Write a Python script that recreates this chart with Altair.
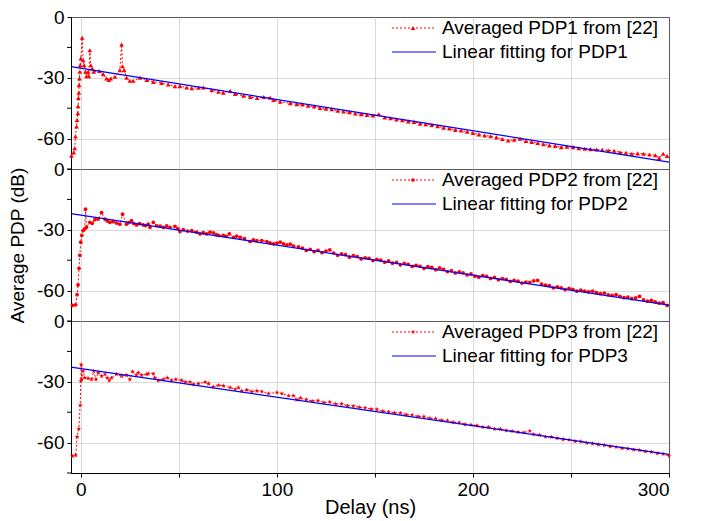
import altair as alt
import pandas as pd

# ---------------- data ----------------
pdp1 = [(-4.8,-68.5),(-3.6,-66.9),(-3.1,-64.8),(-2.7,-59.0),(-2.2,-54.0),(-1.9,-50.8),(-1.5,-47.5),
        (-1.4,-44.0),(-1.2,-40.0),(-1.0,-37.4),(-0.9,-33.6),(-0.7,-30.3),(-0.5,-27.0),(-0.3,-23.8),
        (0.0,-20.5),(0.7,-10.2),(1.2,-21.3),(1.7,-23.8),(2.4,-27.0),(2.9,-29.2),(3.7,-27.0),(4.1,-29.2),
        (4.6,-16.4),(5.1,-23.8),(5.8,-25.4),(6.6,-27.0),(9.4,-26.6),(11.4,-28.2),(13.1,-30.3),(14.3,-31.1),
        (15.3,-30.3),(17.4,-29.5),(19.9,-26.2),(20.8,-13.6),(21.3,-24.3),(22.1,-26.2),(23.3,-30.0),
        (25.0,-31.5),(26.7,-31.5),(30.2,-30.0),(33.6,-31.1),(37.0,-32.0),(41.2,-32.5),(44.6,-33.3),
        (48.0,-34.1),(50.6,-34.1),(54.0,-34.8),(56.6,-35.1),(60.0,-34.9),(62.5,-34.8),(66.8,-36.1),
        (70.2,-36.9),(72.7,-37.4),(76.2,-36.4),(78.7,-38.0),(83.0,-38.9),(86.5,-39.5),(89.9,-40.0),
        (93.3,-39.5),(96.6,-39.8),(98.3,-41.0),(101.7,-41.8),(106.8,-42.6),(110.2,-43.0),
        (113,-43.2),(116,-43.8),(119,-44.1),(122,-44.9),(125,-45.2),(128,-45.5),(131,-46.3),(134,-46.6),
        (137,-47.0),(140,-47.6),(143,-48.0),(146,-48.3),(149,-48.6),(152,-48.0),(155,-49.6),(158,-50.0),
        (161,-50.6),(164,-50.9),(167,-51.5),(170,-51.8),(173,-52.6),(176,-52.9),(179,-53.3),(182,-53.9),
        (185,-54.6),(188,-55.0),(191,-55.7),(194,-56.0),(197,-56.6),(200,-57.2),(203,-57.9),(206,-58.5),
        (209,-58.8),(212,-59.4),(215,-60.2),(218,-60.9),(221,-60.6),(224,-60.1),(227,-61.2),(230,-61.7),
        (233,-62.2),(236,-62.8),(239,-63.4),(242,-63.6),(245,-64.2),(248,-64.0),(251,-64.2),(254,-64.8),
        (257,-65.0),(260,-65.2),(263,-65.4),(266,-65.5),(269,-65.8),(272,-66.0),(275,-66.7),(278,-67.0),
        (281,-67.5),(284,-67.3),(287,-67.5),(290,-67.8),(293,-68.2),(295,-69.5),(297,-67.5),(299,-68.6)]

pdp2 = [(-4.3,-67.3),(-2.6,-67.0),(-1.9,-62.0),(-1.4,-57.2),(-0.9,-49.0),(-0.5,-42.6),(0.0,-36.1),
        (0.5,-32.8),(1.2,-30.4),(2.0,-29.6),(2.4,-19.8),(2.9,-28.8),(4.6,-26.3),(5.8,-26.8),(7.2,-25.0),
        (8.9,-24.7),(10.6,-21.5),(12.3,-24.7),(13.5,-25.6),(14.8,-26.3),(16.5,-26.0),(18.2,-26.7),
        (19.9,-27.2),(21.3,-22.3),(23.3,-27.2),(24.5,-26.4),(25.9,-25.5),(27.0,-26.9),(28.4,-27.6),
        (30.0,-27.0),(31.8,-27.6),(33.0,-27.9),(34.4,-27.2),(35.3,-28.8),(37.0,-26.3),(38.7,-28.0),
        (40.5,-28.2),(42.1,-28.8),(43.8,-28.1),(45.5,-28.8),(48.0,-28.3),(49.5,-29.4),(50.6,-30.9),
        (52.3,-29.9),(54.5,-30.6),(56.6,-30.4),(59.1,-31.2),(60.8,-32.0),(62.5,-31.4),(64.2,-32.0),
        (65.9,-31.2),(67.6,-31.5),(69.0,-32.4),(70.2,-32.8),(72.7,-32.8),(74.3,-33.3),(75.8,-32.0),
        (77.9,-33.7),(79.5,-33.1),(81.3,-33.7),(83.5,-34.4),(86.3,-35.8),(88.0,-35.0),(89.8,-35.3),
        (92.3,-35.3),(94.9,-35.8),(96.5,-36.4),(98.3,-36.9),(100.0,-36.6),(101.7,-36.1),(103.4,-37.0),
        (105.1,-37.4),(106.8,-37.1),(108.5,-38.0),(111.0,-38.4),
        (113,-39.0),(115,-40.2),(117,-39.6),(119,-40.8),(121,-40.1),(123,-41.3),(125,-40.5),(127,-39.9),
        (129,-41.5),(131,-42.6),(133,-41.9),(135,-42.3),(137,-43.5),(139,-42.8),(141,-43.2),(143,-44.4),
        (145,-43.8),(147,-44.1),(149,-45.2),(151,-44.6),(153,-45.0),(155,-46.0),(157,-45.3),(159,-46.5),
        (161,-46.1),(163,-47.3),(165,-46.6),(167,-47.0),(169,-48.1),(171,-47.5),(173,-48.0),(175,-49.0),
        (177,-48.2),(179,-48.5),(181,-49.7),(183,-48.8),(185,-49.5),(187,-50.6),(189,-50.2),(191,-51.3),
        (193,-50.8),(195,-51.2),(197,-52.3),(199,-51.8),(201,-52.9),(203,-53.4),(205,-52.6),(207,-53.0),
        (209,-54.0),(211,-53.5),(213,-54.6),(215,-54.1),(217,-54.5),(219,-55.5),(221,-54.9),(223,-55.3),
        (225,-56.3),(227,-55.8),(229,-56.0),(231,-55.2),(233,-54.9),(235,-56.8),(237,-57.3),(239,-57.6),
        (241,-58.6),(243,-58.1),(245,-58.6),(247,-59.5),(249,-58.9),(251,-59.4),(253,-60.3),(255,-59.8),
        (257,-60.2),(259,-60.6),(261,-60.2),(263,-61.0),(265,-61.5),(267,-61.2),(269,-62.1),(271,-62.4),
        (273,-62.0),(275,-62.8),(277,-63.5),(279,-63.2),(281,-64.0),(283,-63.6),(285,-62.9),(287,-64.6),
        (289,-65.2),(291,-64.8),(293,-65.6),(295,-66.2),(297,-65.9),(299,-67.3)]

pdp3 = [(-4.3,-66.7),(-2.6,-66.2),(-1.9,-57.2),(-1.0,-53.2),(-0.3,-41.6),(0.0,-29.6),(0.2,-21.5),
        (0.5,-28.8),(1.2,-24.7),(2.0,-28.0),(3.7,-28.3),(5.5,-28.8),(6.6,-24.7),(7.7,-28.8),(8.9,-25.5),
        (10.6,-27.2),(12.3,-26.3),(13.5,-28.0),(14.5,-29.3),(15.7,-28.0),(18.2,-26.3),(20.8,-27.2),
        (23.3,-26.7),(25.0,-28.8),(26.4,-25.0),(28.4,-26.8),(29.3,-25.5),(31.0,-26.7),(33.6,-26.3),
        (34.4,-26.0),(37.0,-26.0),(37.8,-28.0),(39.5,-29.3),(42.1,-28.8),(44.1,-28.0),(46.3,-29.3),
        (48.5,-28.8),(51.4,-29.3),(53.2,-30.1),(55.7,-30.1),(57.4,-31.2),(60.0,-30.9),(63.4,-30.1),
        (65.1,-30.9),(67.6,-32.5),(70.2,-31.7),(72.7,-32.0),(76.2,-32.8),(78.7,-33.7),(80.4,-32.8),
        (82.1,-34.5),(84.7,-34.0),(87.2,-34.8),(89.8,-34.5),(92.3,-34.8),(95.7,-35.8),(100.0,-35.3),
        (102.6,-35.8),(106.0,-36.9),(108.5,-36.9),(110.2,-38.9),(112.0,-38.0),
        (115,-38.8),(118,-39.5),(121,-39.3),(124,-40.2),(127,-40.0),(130,-41.0),(133,-40.9),(136,-41.8),
        (139,-42.0),(142,-42.6),(145,-42.8),(148,-43.5),(151,-43.6),(154,-44.5),(157,-44.8),(160,-45.3),
        (163,-45.5),(166,-46.2),(169,-46.4),(172,-47.1),(175,-47.2),(178,-48.0),(181,-48.1),(184,-49.0),
        (187,-49.1),(190,-50.0),(193,-50.1),(196,-51.0),(199,-51.2),(202,-51.6),(205,-52.3),(208,-52.4),
        (211,-53.2),(214,-53.3),(217,-54.0),(220,-54.3),(223,-54.8),(226,-55.0),(229,-54.3),(231,-55.9),
        (234,-56.3),(237,-57.1),(240,-57.2),(243,-57.9),(246,-58.4),(249,-58.6),(252,-59.3),(255,-59.5),
        (258,-60.2),(261,-60.5),(264,-61.0),(267,-61.3),(270,-61.9),(273,-62.2),(276,-62.8),(279,-63.0),
        (282,-63.5),(285,-63.8),(288,-64.4),(291,-64.6),(294,-65.3),(297,-65.6),(300,-66.5)]

fit1 = [(-5, -24.5), (300, -71.6)]
fit2 = [(-5, -22.0), (300, -67.2)]
fit3 = [(-5, -22.8), (300, -65.8)]

labels_avg = ["Averaged PDP1 from [22]", "Averaged PDP2 from [22]", "Averaged PDP3 from [22]"]
labels_fit = ["Linear fitting for PDP1", "Linear fitting for PDP2", "Linear fitting for PDP3"]
STAR = "M0,-1L0.24,-0.33L0.95,-0.31L0.38,0.12L0.59,0.81L0,0.4L-0.59,0.81L-0.38,0.12L-0.95,-0.31L-0.24,-0.33Z"
shapes = ["triangle-up", "circle", STAR]
marker_sizes = [22, 14, 26]

x_ticks = [0, 50, 100, 150, 200, 250, 300]
y_major = [0, -30, -60]
y_minor = [-15, -45, -75]

FONT = "Liberation Sans"
RED = "#ff0000"
BLUE = "#0000ff"
GRID = "#b4b4b4"
W, H = 598, 152


def panel(pts, fit, shape, msize, lab_avg, lab_fit, bottom, ytitle):
    df = pd.DataFrame(pts, columns=["x", "y"])
    dff = pd.DataFrame(fit, columns=["x", "y"])
    xscale = alt.Scale(domain=[-5, 300], nice=False, zero=False)
    yscale = alt.Scale(domain=[-75, 0], nice=False, zero=False)
    if bottom:
        xaxis = alt.Axis(values=x_ticks, title="Delay (ns)",
                         labelExpr="datum.value % 100 == 0 ? datum.label : ''",
                         tickSize=4, tickColor="black", domainColor="black",
                         labelFontSize=19, titleFontSize=20, titleFontWeight="normal",
                         labelPadding=3, titlePadding=-2,
                         grid=True, gridDash=[1, 1], gridColor=GRID)
    else:
        xaxis = alt.Axis(values=x_ticks, title=None, labels=False, ticks=False, domain=False,
                         grid=True, gridDash=[1, 1], gridColor=GRID)
    yaxis = alt.Axis(values=y_major, title=ytitle if ytitle else None,
                     labelExpr="'' + datum.value",
                     tickSize=4, tickColor="black", domainColor="black",
                     labelFontSize=19, titleFontSize=19, titleFontWeight="normal",
                     labelPadding=3, titlePadding=9,
                     grid=True, gridDash=[1, 1], gridColor=GRID)
    base = alt.Chart(df).encode(
        x=alt.X("x:Q", scale=xscale, axis=xaxis),
        y=alt.Y("y:Q", scale=yscale, axis=yaxis),
    )
    line = base.mark_line(color=RED, strokeDash=[2, 2], strokeWidth=1)
    pts_m = base.mark_point(shape=shape, filled=True, color=RED, size=msize, opacity=1)
    fitl = alt.Chart(dff).mark_line(color=BLUE, strokeWidth=1.2).encode(
        x=alt.X("x:Q", scale=xscale), y=alt.Y("y:Q", scale=yscale))

    minor = alt.Chart(pd.DataFrame({"v": y_minor})).mark_rule(color="black", strokeWidth=1).encode(
        x=alt.value(-4), x2=alt.value(0), y=alt.Y("v:Q", scale=yscale))

    one = pd.DataFrame({"t": [lab_avg], "u": [lab_fit]})
    leg = alt.Chart(one)
    r1 = leg.mark_rule(color=RED, strokeDash=[2, 2], strokeWidth=1).encode(
        x=alt.value(321), x2=alt.value(365), y=alt.value(11))
    p1 = leg.mark_point(shape=shape, filled=True, color=RED, size=msize, opacity=1).encode(
        x=alt.value(342), y=alt.value(11))
    r2 = leg.mark_rule(color=BLUE, strokeWidth=1.2).encode(
        x=alt.value(321), x2=alt.value(365), y=alt.value(35))
    t1 = leg.mark_text(align="left", baseline="middle", fontSize=19, font=FONT, color="black").encode(
        x=alt.value(371), y=alt.value(11), text="t:N")
    t2 = leg.mark_text(align="left", baseline="middle", fontSize=19, font=FONT, color="black").encode(
        x=alt.value(371), y=alt.value(35), text="u:N")
    return alt.layer(line, pts_m, fitl, minor, r1, p1, r2, t1, t2).properties(width=W, height=H)


c1 = panel(pdp1, fit1, shapes[0], marker_sizes[0], labels_avg[0], labels_fit[0], False, None)
c2 = panel(pdp2, fit2, shapes[1], marker_sizes[1], labels_avg[1], labels_fit[1], False, "Average PDP (dB)")
c3 = panel(pdp3, fit3, shapes[2], marker_sizes[2], labels_avg[2], labels_fit[2], True, None)

chart = alt.vconcat(c1, c2, c3, spacing=0, bounds="flush").properties(
    padding={"left": 0, "top": -1, "right": 5, "bottom": 0}
).configure(font=FONT).configure_view(stroke="black", strokeWidth=1).configure_axis(
    labelFont=FONT, titleFont=FONT, labelColor="black", titleColor="black")

chart.save("out.html", embed_options={"renderer": "svg", "actions": False})
